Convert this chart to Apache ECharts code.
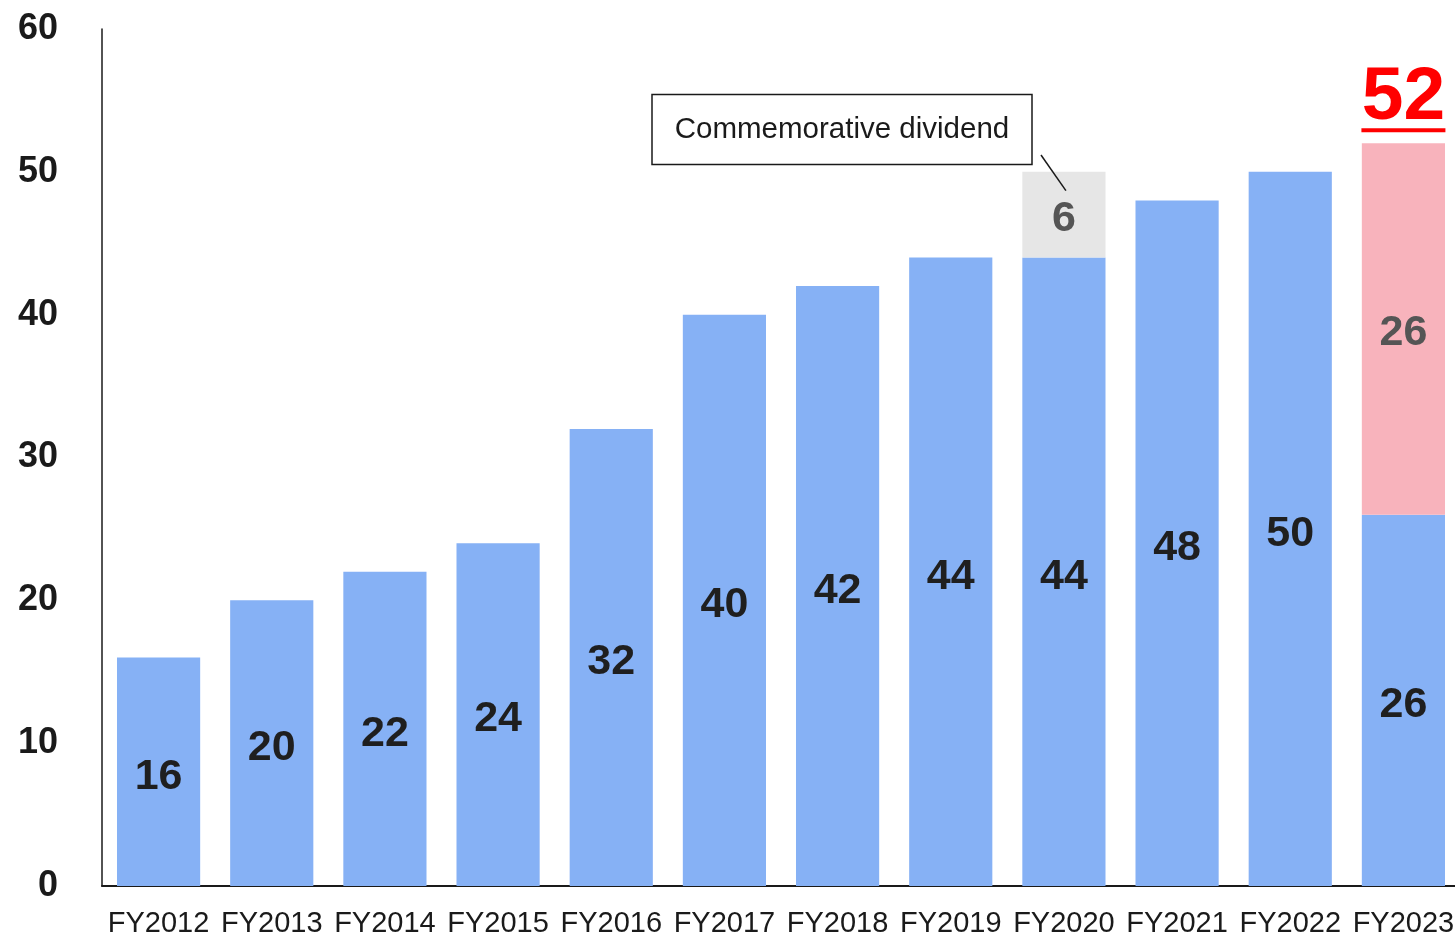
<!DOCTYPE html>
<html>
<head>
<meta charset="utf-8">
<script src="https://cdn.jsdelivr.net/npm/echarts@6/dist/echarts.min.js"></script>
<style>
  html, body { margin: 0; padding: 0; background: #fff; }
  #chart { width: 1455px; height: 935px; }
</style>
</head>
<body>
<div id="chart"></div>
<script>
// Dividend per share by fiscal year
const years = ['FY2012', 'FY2013', 'FY2014', 'FY2015', 'FY2016', 'FY2017',
               'FY2018', 'FY2019', 'FY2020', 'FY2021', 'FY2022', 'FY2023'];
const ordinary = [16, 20, 22, 24, 32, 40, 42, 44, 44, 48, 50, 26];
const commemorative = [null, null, null, null, null, null, null, null, 6, null, null, null];
const secondHalf = [null, null, null, null, null, null, null, null, null, null, null, 26];
const yTicks = { min: 0, max: 60, interval: 10 };
const noteText = 'Commemorative dividend';

const FONT = '"Liberation Sans", Arial, sans-serif';
const chart = echarts.init(document.getElementById('chart'), null, { renderer: 'canvas' });

const totals = ordinary.map((v, i) => v + (commemorative[i] || 0) + (secondHalf[i] || 0));

const option = {
  animation: false,
  backgroundColor: '#fff',
  textStyle: { fontFamily: FONT },
  grid: { left: 102, top: 29, bottom: 49, width: 1358, containLabel: false, outerBoundsMode: 'none' },
  xAxis: {
    type: 'category',
    data: years,
    axisLine: { show: true, lineStyle: { color: '#1a1a1a', width: 2 } },
    axisTick: { show: false },
    axisLabel: { color: '#1a1a1a', fontSize: 29, fontFamily: FONT, margin: 23, interval: 0 }
  },
  yAxis: {
    type: 'value',
    min: yTicks.min, max: yTicks.max, interval: yTicks.interval,
    axisLine: { show: true, lineStyle: { color: '#1a1a1a', width: 1.5 } },
    axisTick: { show: false },
    splitLine: { show: false },
    axisLabel: { color: '#1a1a1a', fontSize: 36, fontWeight: 'bold', fontFamily: FONT, margin: 44,
                 padding: [8, 0, 0, 0] }
  },
  series: [
    {
      name: 'Ordinary', type: 'bar', stack: 'div', data: ordinary,
      barCategoryGap: '26.5%',
      itemStyle: { color: '#86b1f5' },
      label: { show: true, position: 'inside', offset: [0, 5], fontSize: 43, fontWeight: 'bold',
               color: '#1f1f1f', fontFamily: FONT }
    },
    {
      name: 'Commemorative', type: 'bar', stack: 'div', data: commemorative,
      itemStyle: { color: '#e6e6e6' },
      label: { show: true, position: 'inside', offset: [0, 4], fontSize: 43, fontWeight: 'bold',
               color: '#555555', fontFamily: FONT }
    },
    {
      name: 'Second half', type: 'bar', stack: 'div', data: secondHalf,
      itemStyle: { color: '#f8b3bc' },
      label: { show: true, position: 'inside', offset: [0, 4], fontSize: 43, fontWeight: 'bold',
               color: '#555555', fontFamily: FONT }
    },
    {
      // total shown above the split bar, underlined in red
      name: 'Total', type: 'bar', stack: 'div',
      data: secondHalf.map(v => (v == null ? null : 0)),
      itemStyle: { color: 'transparent' },
      label: {
        show: true, position: 'top', distance: 11,
        formatter: p => '{v|' + totals[p.dataIndex] + '}\n{u|}',
        rich: {
          v: { fontSize: 75, fontWeight: 'bold', color: '#ff0000', fontFamily: FONT, lineHeight: 60, align: 'center' },
          u: { height: 4, lineHeight: 4, width: 84, backgroundColor: '#ff0000', align: 'center' }
        }
      }
    }
  ]
};
chart.setOption(option);

// annotation box with a leader line down to the commemorative segment
const idx = commemorative.findIndex(v => v != null);
const tip = chart.convertToPixel({ xAxisIndex: 0, yAxisIndex: 0 },
  [years[idx], ordinary[idx] + commemorative[idx] * 0.78]);
chart.setOption({
  graphic: [
    { type: 'rect', z: 100, shape: { x: 652, y: 94.5, width: 380, height: 70 },
      style: { fill: '#fff', stroke: '#1a1a1a', lineWidth: 1.5 } },
    { type: 'text', z: 101, x: 842, y: 130,
      style: { text: noteText, font: '29.5px ' + FONT, fill: '#1a1a1a',
               textAlign: 'center', textVerticalAlign: 'middle' } },
    { type: 'line', z: 100, shape: { x1: 1041, y1: 155, x2: tip[0] + 2, y2: tip[1] },
      style: { stroke: '#1a1a1a', lineWidth: 1.5 } }
  ]
});
</script>
</body>
</html>
